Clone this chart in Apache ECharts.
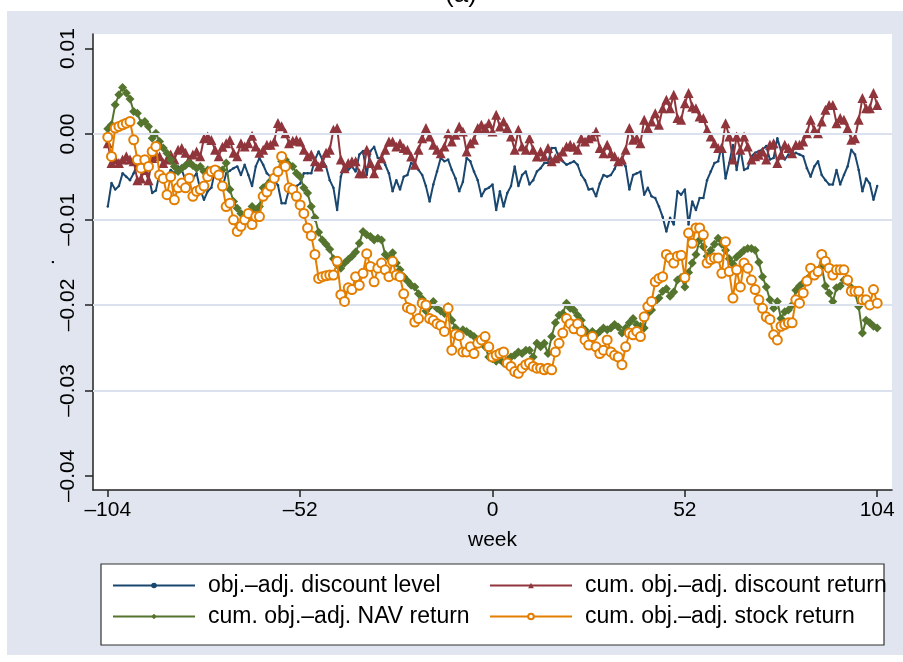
<!DOCTYPE html>
<html>
<head>
<meta charset="utf-8">
<script src="https://cdn.jsdelivr.net/npm/echarts@6/dist/echarts.min.js"></script>
<style>
html,body{margin:0;padding:0;background:#fff;}
#c{width:903px;height:662px;}
</style>
</head>
<body>
<div id="c"></div>
<script>
const weeks = [-104,-103,-102,-101,-100,-99,-98,-97,-96,-95,-94,-93,-92,-91,-90,-89,-88,-87,-86,-85,-84,-83,-82,-81,-80,-79,-78,-77,-76,-75,-74,-73,-72,-71,-70,-69,-68,-67,-66,-65,-64,-63,-62,-61,-60,-59,-58,-57,-56,-55,-54,-53,-52,-51,-50,-49,-48,-47,-46,-45,-44,-43,-42,-41,-40,-39,-38,-37,-36,-35,-34,-33,-32,-31,-30,-29,-28,-27,-26,-25,-24,-23,-22,-21,-20,-19,-18,-17,-16,-15,-14,-13,-12,-11,-10,-9,-8,-7,-6,-5,-4,-3,-2,-1,0,1,2,3,4,5,6,7,8,9,10,11,12,13,14,15,16,17,18,19,20,21,22,23,24,25,26,27,28,29,30,31,32,33,34,35,36,37,38,39,40,41,42,43,44,45,46,47,48,49,50,51,52,53,54,55,56,57,58,59,60,61,62,63,64,65,66,67,68,69,70,71,72,73,74,75,76,77,78,79,80,81,82,83,84,85,86,87,88,89,90,91,92,93,94,95,96,97,98,99,100,101,102,103,104];

const discountLevel = [
-0.0085,-0.00575,-0.0065,-0.0061,-0.0046,-0.0050,-0.0054,-0.0046,-0.0034,-0.0030,
-0.0042,-0.0048,-0.0069,-0.0066,-0.0046,-0.0054,-0.0050,-0.0042,-0.0046,-0.0038,
-0.0042,-0.0054,-0.0048,-0.0052,-0.0046,-0.0065,-0.0077,-0.0067,-0.0063,-0.0042,
-0.0050,-0.0063,-0.0046,-0.0043,-0.0040,-0.0038,-0.0048,-0.0036,-0.0048,-0.0061,
-0.0038,-0.0028,-0.0036,-0.0046,-0.0050,-0.0054,-0.0060,-0.0081,-0.0081,-0.0065,
-0.0063,-0.0061,-0.0058,-0.0046,-0.0046,-0.0046,-0.0030,-0.00205,-0.0030,-0.0038,
-0.0054,-0.0063,-0.0089,-0.0050,-0.0036,-0.0042,-0.0038,-0.0044,-0.0024,-0.0020,
-0.0048,-0.0020,-0.0015,-0.0028,-0.0028,-0.0036,-0.0046,-0.0067,-0.0054,-0.0065,
-0.0050,-0.0048,-0.0034,-0.0036,-0.0042,-0.0048,-0.0061,-0.0079,-0.0059,-0.0044,
-0.0028,-0.0032,-0.0030,-0.0042,-0.0052,-0.0067,-0.0056,-0.0028,-0.0032,-0.0044,
-0.0054,-0.0073,-0.0065,-0.0063,-0.0059,-0.0089,-0.0067,-0.0085,-0.0069,-0.0061,
-0.0038,-0.0061,-0.0048,-0.0044,-0.0059,-0.0054,-0.0044,-0.0040,-0.0034,-0.0034,
-0.00165,-0.00165,-0.0028,-0.0032,-0.0036,-0.0034,-0.0032,-0.0036,-0.0048,-0.0054,
-0.0065,-0.0064,-0.0073,-0.0058,-0.0048,-0.0050,-0.0048,-0.0041,-0.0030,-0.0032,
-0.0038,-0.0065,-0.0048,-0.0046,-0.0044,-0.0071,-0.0063,-0.0073,-0.0075,-0.0085,
-0.0097,-0.0114,-0.0098,-0.0106,-0.0067,-0.0071,-0.0065,-0.0106,-0.0079,-0.0089,
-0.0075,-0.0075,-0.0054,-0.0044,-0.0034,-0.0032,-0.0013,-0.0052,-0.0034,-0.0013,
-0.0042,-0.0017,-0.0042,-0.0040,-0.0026,-0.0022,-0.0020,-0.0018,-0.0014,-0.0030,
-0.0028,-0.0005,-0.0020,-0.0030,-0.0024,-0.0026,-0.0022,-0.0024,-0.0026,-0.0040,
-0.0050,-0.0038,-0.0032,-0.0048,-0.0054,-0.0059,-0.0059,-0.0042,-0.0059,-0.0048,
-0.0038,-0.00185,-0.0024,-0.0042,-0.0067,-0.0052,-0.0058,-0.0077,-0.0061
];

const discountReturn = [
-0.00107,-0.0034,-0.0030,-0.0034,-0.0030,-0.0026,-0.0030,-0.0032,-0.0054,-0.0052,
-0.0042,-0.0054,-0.0028,-0.0024,-0.0026,-0.0034,-0.0030,-0.0024,-0.0030,-0.00185,
-0.00165,-0.0022,-0.0030,-0.0024,-0.00205,-0.0026,-0.0005,-0.0003,-0.0007,-0.00185,
-0.0026,-0.0015,-0.00107,-0.0007,-0.0022,-0.0026,-0.00107,-0.00145,-0.00107,-0.0002,
-0.00145,-0.0022,-0.00185,-0.00126,-0.00126,-0.00087,0.0013,0.0009,0.0001,-0.00107,
-0.0008,-0.0007,-0.00087,-0.00185,-0.0026,-0.0024,-0.0032,-0.0038,-0.0034,-0.0022,
-0.00185,0.0005,0.0007,-0.0030,-0.0040,-0.0034,-0.0032,-0.0032,-0.0046,-0.0046,
-0.00185,-0.0034,-0.0046,-0.0036,-0.00283,-0.00185,-0.00088,-0.00088,-0.00146,-0.00107,
-0.00165,-0.00185,-0.00263,-0.0036,-0.00185,-0.00049,0.00069,-0.00029,-0.00126,-0.00185,
-0.00224,-0.00146,0.0001,-0.00088,-0.0001,0.00088,0.0003,-0.00205,-0.00107,-0.00068,
0.00069,0.00108,0.00069,0.00127,0.0003,0.00225,0.00088,0.00147,0.00069,-0.00029,
-0.00185,0.00049,-0.00146,-0.00185,-0.00049,-0.00185,-0.00263,-0.00205,-0.00263,-0.00165,
-0.0032,-0.00283,-0.00263,-0.00205,-0.00146,-0.00126,-0.0015,-0.00185,-0.00049,-0.00088,
-0.00049,-0.00029,0.0003,-0.00165,-0.00224,-0.00126,-0.00224,-0.0026,-0.0032,-0.0030,
-0.00185,0.00069,-0.00068,-0.00049,-0.00107,0.00166,0.00069,0.00146,0.00244,0.00107,
0.0030,0.0040,0.0030,0.0046,0.00186,0.00166,0.0036,0.0048,0.0032,0.0030,
0.00205,0.00186,0.00049,-0.00029,-0.00107,-0.00165,-0.00165,0.00127,-0.00029,-0.0030,
-0.00029,-0.00185,-0.00029,-0.00146,-0.0030,-0.0026,-0.00243,-0.00205,-0.0030,-0.00126,
-0.00107,-0.0034,-0.00243,-0.00126,-0.00165,-0.00224,-0.00126,-0.00126,-0.00088,0.0001,
0.00166,0.00049,0.0001,0.00146,0.00283,0.0034,0.0034,0.00127,0.00186,0.00166,
0.00069,-0.00068,-0.00049,0.00166,0.0042,0.0030,0.0030,0.0048,0.0034
];

const navReturn = [
0.00061,0.00108,0.00342,0.00459,0.00545,0.00479,0.00409,0.00264,0.00244,0.00127,
0.00147,0.00088,-0.00049,0.0001,-0.00088,-0.00165,-0.00224,-0.00302,-0.0038,-0.00439,
-0.0040,-0.0037,-0.0034,-0.0037,-0.0040,-0.0038,-0.00439,-0.0042,-0.0046,-0.0044,
-0.0042,-0.0042,-0.0034,-0.0065,-0.0079,-0.0087,-0.0093,-0.0097,-0.0095,-0.0085,
-0.0089,-0.0085,-0.0063,-0.0060,-0.0055,-0.0052,-0.00439,-0.0032,-0.00302,-0.0036,
-0.0038,-0.0046,-0.0050,-0.0063,-0.0069,-0.0085,-0.0098,-0.0115,-0.0124,-0.0129,
-0.0135,-0.0146,-0.0153,-0.0157,-0.0151,-0.0147,-0.0143,-0.0138,-0.0128,-0.0114,
-0.0118,-0.0120,-0.0124,-0.0122,-0.0124,-0.0141,-0.0145,-0.0139,-0.0151,-0.0159,
-0.0167,-0.0172,-0.0177,-0.0179,-0.0187,-0.0193,-0.0207,-0.0202,-0.0196,-0.0204,
-0.0207,-0.0210,-0.0202,-0.0218,-0.0227,-0.0233,-0.0229,-0.0231,-0.0234,-0.0237,
-0.0241,-0.0239,-0.0249,-0.0261,-0.0263,-0.0266,-0.0264,-0.0268,-0.0265,-0.0261,
-0.0259,-0.0255,-0.0257,-0.0253,-0.0253,-0.0261,-0.0245,-0.0249,-0.0245,-0.0257,
-0.0237,-0.0221,-0.0212,-0.0210,-0.0198,-0.0204,-0.0206,-0.0212,-0.0218,-0.0229,
-0.0235,-0.0231,-0.0235,-0.0231,-0.0227,-0.0229,-0.0227,-0.0223,-0.0226,-0.0233,
-0.0227,-0.0221,-0.0216,-0.0223,-0.0225,-0.0227,-0.0210,-0.0206,-0.0196,-0.0192,
-0.0184,-0.0181,-0.0190,-0.0185,-0.0171,-0.0168,-0.0179,-0.0162,-0.0151,-0.0141,
-0.0124,-0.0132,-0.0143,-0.0136,-0.0129,-0.0122,-0.0129,-0.0136,-0.0146,-0.0152,
-0.0144,-0.0140,-0.0136,-0.0134,-0.0134,-0.0136,-0.0150,-0.0167,-0.0179,-0.0194,
-0.0204,-0.0196,-0.0216,-0.0208,-0.0206,-0.0200,-0.0183,-0.0178,-0.0174,-0.0170,
-0.0166,-0.0164,-0.0160,-0.0155,-0.0178,-0.0186,-0.0196,-0.0180,-0.0178,-0.0171,
-0.0173,-0.0180,-0.0186,-0.0202,-0.0233,-0.0218,-0.0221,-0.0225,-0.0227
];

const stockReturn = [
-0.00037,-0.00263,0.00069,0.00088,0.00107,0.00127,0.00146,-0.00068,-0.00302,-0.0040,
-0.00302,-0.0038,-0.00205,-0.00146,-0.00479,-0.0052,-0.0071,-0.00499,-0.0077,-0.0063,
-0.00575,-0.0063,-0.00517,-0.0073,-0.0067,-0.0065,-0.0061,-0.0050,-0.00439,-0.0042,
-0.00479,-0.0061,-0.0085,-0.0081,-0.01005,-0.0114,-0.0108,-0.01005,-0.0093,-0.0106,
-0.00966,-0.00966,-0.0073,-0.0068,-0.0061,-0.00517,-0.00439,-0.00263,-0.0038,-0.0063,
-0.0065,-0.0073,-0.0083,-0.0093,-0.0110,-0.0119,-0.0141,-0.0169,-0.0167,-0.0166,
-0.0165,-0.0165,-0.0149,-0.0188,-0.0196,-0.0180,-0.0182,-0.0167,-0.0177,-0.0163,
-0.0140,-0.0155,-0.0173,-0.0157,-0.0151,-0.0159,-0.0167,-0.0149,-0.0165,-0.0167,
-0.0187,-0.0203,-0.0205,-0.0220,-0.0216,-0.0198,-0.0200,-0.0216,-0.0218,-0.0222,
-0.0224,-0.0231,-0.0204,-0.0253,-0.0234,-0.0236,-0.0255,-0.0255,-0.0249,-0.0257,
-0.0245,-0.0241,-0.0237,-0.0249,-0.0261,-0.0259,-0.0257,-0.0255,-0.0268,-0.0272,
-0.0278,-0.0280,-0.0274,-0.0270,-0.0268,-0.0272,-0.0274,-0.0274,-0.0276,-0.0274,
-0.0276,-0.0255,-0.0245,-0.0233,-0.0216,-0.0222,-0.0228,-0.0222,-0.0231,-0.0241,
-0.0247,-0.0237,-0.0249,-0.0257,-0.0253,-0.0241,-0.0255,-0.0259,-0.0261,-0.0270,
-0.0249,-0.0233,-0.0235,-0.0231,-0.0237,-0.0214,-0.0202,-0.0196,-0.0173,-0.0169,
-0.0167,-0.0141,-0.0145,-0.0151,-0.0143,-0.0142,-0.0168,-0.0116,-0.0128,-0.0110,
-0.0110,-0.0118,-0.0151,-0.0147,-0.0145,-0.0145,-0.0163,-0.0126,-0.0161,-0.0192,
-0.0159,-0.0179,-0.0151,-0.0157,-0.0171,-0.0182,-0.0194,-0.0204,-0.0214,-0.0217,
-0.0235,-0.0241,-0.0225,-0.0223,-0.0221,-0.0221,-0.0194,-0.0198,-0.0186,-0.0172,
-0.0157,-0.0165,-0.0161,-0.0141,-0.0149,-0.0157,-0.0165,-0.0159,-0.0159,-0.0159,
-0.0171,-0.0184,-0.0184,-0.0184,-0.0194,-0.0194,-0.0200,-0.0182,-0.0198
];

const seriesNames = ['obj.\u2013adj. discount level','cum. obj.\u2013adj. discount return','cum. obj.\u2013adj. NAV return','cum. obj.\u2013adj. stock return'];
const xTickValues = [-104,-52,0,52,104];
const yTickValues = [-0.04,-0.03,-0.02,-0.01,0,0.01];
const yGridValues = [-0.03,-0.02,-0.01,0];

const colors = {navy:'#1a476f', maroon:'#90353b', green:'#55752f', orange:'#e37e00'};
const FONT = 'Liberation Sans, Arial, Helvetica, sans-serif';

function pairs(vals){ return weeks.map((w,i)=>[w, vals[i]]); }
function dash(s){ return String(s).replace('-', '\u2013'); }

const chart = echarts.init(document.getElementById('c'), null, {renderer:'canvas'});

const legendCommon = {
  orient:'vertical', itemWidth:82, itemHeight:7, itemGap:8, padding:0,
  textStyle:{fontFamily:FONT, fontSize:23, color:'#000', padding:[0,0,0,8]},
  selectedMode:false
};

chart.setOption({
  animation:false,
  backgroundColor:'#fff',
  graphic:[
    {type:'rect', z:-10, silent:true, shape:{x:7,y:11,width:896,height:644}, style:{fill:'#e0e5f0'}},
    {type:'rect', z:-9, silent:true, shape:{x:101,y:564,width:783,height:81}, style:{fill:'#fff', stroke:'#333', lineWidth:1.2}},
    {type:'text', silent:true, x:461, y:8, style:{text:'(a)', fontFamily:FONT, fontSize:26, fill:'#000', align:'center', verticalAlign:'bottom'}}
  ],
  grid:{left:93, right:11, top:34, bottom:172, show:true, backgroundColor:'#fff', borderWidth:0, containLabel:false},
  xAxis:{
    type:'value', min:-108, max:108,
    name:'week', nameLocation:'middle', nameGap:40,
    nameTextStyle:{fontFamily:FONT, fontSize:21, color:'#000'},
    axisLine:{show:true, onZero:false, lineStyle:{color:'#222', width:1.5}},
    axisTick:{show:true, length:7, customValues:xTickValues, lineStyle:{color:'#222', width:1.5}},
    axisLabel:{customValues:xTickValues, margin:10, fontFamily:FONT, fontSize:21, color:'#000', formatter:(v)=>dash(v)},
    splitLine:{show:false}
  },
  yAxis:{
    type:'value', min:-0.04166, max:0.0117,
    name:'.', nameLocation:'middle', nameGap:34, nameRotate:90, nameMoveOverlap:false,
    nameTextStyle:{fontFamily:FONT, fontSize:21, color:'#000'},
    axisLine:{show:true, onZero:false, lineStyle:{color:'#222', width:1.5}},
    axisTick:{show:true, length:8, customValues:yTickValues, lineStyle:{color:'#222', width:1.5}},
    axisLabel:{customValues:yTickValues, rotate:90, margin:14, fontFamily:FONT, fontSize:21, color:'#000',
      formatter:(v)=>dash(Number(v).toFixed(2))},
    splitLine:{show:false}
  },
  legend:[
    Object.assign({}, legendCommon, {left:112, top:574, data:[seriesNames[0], seriesNames[2]]}),
    Object.assign({}, legendCommon, {left:489, top:574, data:[seriesNames[1], seriesNames[3]]})
  ],
  series:[
    {type:'line', name:'_grid', data:[], silent:true, z:1,
     markLine:{silent:true, symbol:'none', label:{show:false},
       lineStyle:{color:'#dbe1ed', width:2, type:'solid'},
       data: yGridValues.map(v=>({yAxis:v}))}},
    {type:'line', name:seriesNames[0], data:pairs(discountLevel), z:2,
     symbol:'circle', symbolSize:2.5,
     lineStyle:{color:colors.navy, width:2}, itemStyle:{color:colors.navy}},
    {type:'line', name:seriesNames[1], data:pairs(discountReturn), z:3,
     symbol:'triangle', symbolSize:[10,10],
     lineStyle:{color:colors.maroon, width:2}, itemStyle:{color:colors.maroon}},
    {type:'line', name:seriesNames[2], data:pairs(navReturn), z:4,
     symbol:'diamond', symbolSize:[9,9],
     lineStyle:{color:colors.green, width:2}, itemStyle:{color:colors.green}},
    {type:'line', name:seriesNames[3], data:pairs(stockReturn), z:5,
     symbol:'emptyCircle', symbolSize:9,
     lineStyle:{color:colors.orange, width:2}, itemStyle:{color:colors.orange, borderWidth:1.8}}
  ]
});
</script>
</body>
</html>
